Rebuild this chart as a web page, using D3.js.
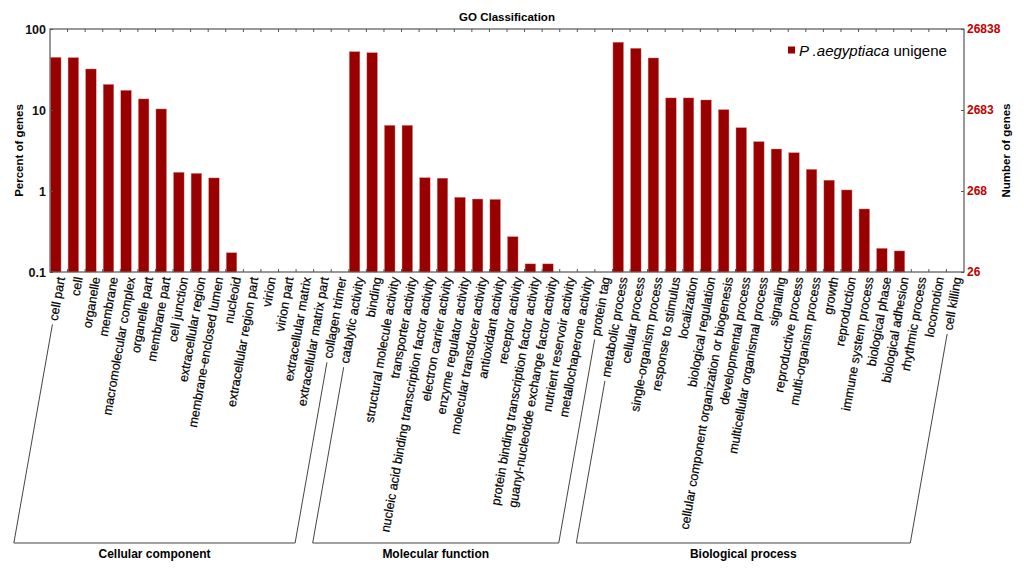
<!DOCTYPE html>
<html>
<head>
<meta charset="utf-8">
<script src="https://cdn.jsdelivr.net/npm/d3@7"></script>
<style>
  body { margin: 0; background: #fff; }
  svg { font-family: "Liberation Sans", Arial, sans-serif; }
</style>
</head>
<body>
<svg width="1024" height="572"></svg>
<script>
// GO terms and percent of genes (0 = no bar above 0.1%)
var groupNames = ["Cellular component", "Molecular function", "Biological process"];

var ccTerms = ["cell part", "cell", "organelle", "membrane", "macromolecular complex", "organelle part",
  "membrane part", "cell junction", "extracellular region", "membrane-enclosed lumen", "nucleoid",
  "extracellular region part", "virion", "virion part", "extracellular matrix", "extracellular matrix part",
  "collagen trimer"];
var ccPercent = [44.7, 44.3, 32.1, 20.7, 17.5, 13.7, 10.3, 1.70, 1.65, 1.45, 0.173, 0, 0, 0, 0, 0, 0];

var mfTerms = ["catalytic activity", "binding", "structural molecule activity", "transporter activity",
  "nucleic acid binding transcription factor activity", "electron carrier activity",
  "enzyme regulator activity", "molecular transducer activity", "antioxidant activity",
  "receptor activity", "protein binding transcription factor activity",
  "guanyl-nucleotide exchange factor activity", "nutrient reservoir activity",
  "metallochaperone activity", "protein tag"];
var mfPercent = [52.5, 51.0, 6.47, 6.47, 1.46, 1.44, 0.836, 0.796, 0.787, 0.273, 0.126, 0.126, 0, 0, 0];

var bpTerms = ["metabolic process", "cellular process", "single-organism process", "response to stimulus",
  "localization", "biological regulation", "cellular component organization or biogenesis",
  "developmental process", "multicellular organismal process", "signaling", "reproductive process",
  "multi-organism process", "growth", "reproduction", "immune system process", "biological phase",
  "biological adhesion", "rhythmic process", "locomotion", "cell killing"];
var bpPercent = [68.7, 57.8, 43.9, 14.1, 14.1, 13.3, 10.1, 6.05, 4.07, 3.30, 2.97, 1.85, 1.36, 1.03,
  0.60, 0.196, 0.182, 0, 0, 0];

var totalGenes = 26838;
var percentTicks = [0.1, 1, 10, 100];

var svg = d3.select("svg");
var plotL = 50, plotR = 964, plotT = 29, plotB = 272;
var barColor = "#990000";

// flatten into one list
var termLists = [ccTerms, mfTerms, bpTerms];
var valueLists = [ccPercent, mfPercent, bpPercent];
var data = [];
termLists.forEach(function(terms, g){
  terms.forEach(function(t, i){
    data.push({name: t, value: valueLists[g][i], group: g});
  });
});

var x = d3.scaleBand()
  .domain(data.map(function(d){ return d.name }))
  .range([plotL, plotR]);
var bw = x.bandwidth();

var y = d3.scaleLog().domain([0.1, 100]).range([plotB, plotT]);
var yRight = d3.scaleLog().domain([totalGenes / 1000, totalGenes]).range([plotB, plotT]);

// bars
svg.append("g")
  .selectAll("rect")
  .data(data.filter(function(d){ return d.value > 0.1 }))
  .enter()
  .append("rect")
    .attr("x", function(d){ return x(d.name) + 0.5 })
    .attr("y", function(d){ return y(d.value) })
    .attr("width", bw * 0.6)
    .attr("height", function(d){ return plotB - y(d.value) })
    .attr("fill", barColor)
    .attr("stroke", "#d88")
    .attr("stroke-width", 0.4);

// frame
svg.append("rect")
  .attr("x", plotL).attr("y", plotT)
  .attr("width", plotR - plotL).attr("height", plotB - plotT)
  .attr("fill", "none").attr("stroke", "#555").attr("stroke-width", 1.2);

// top and bottom ticks at each band start
var tickGroup = svg.append("g").attr("stroke", "#555").attr("stroke-width", 1);
tickGroup.selectAll(".tt")
  .data(data.slice(1))
  .enter().append("line")
    .attr("x1", function(d){ return x(d.name) }).attr("x2", function(d){ return x(d.name) })
    .attr("y1", plotT).attr("y2", plotT + 3);
tickGroup.selectAll(".bt")
  .data(data.slice(1))
  .enter().append("line")
    .attr("x1", function(d){ return x(d.name) }).attr("x2", function(d){ return x(d.name) })
    .attr("y1", plotB).attr("y2", plotB - 3);

// left axis
var yAxis = svg.append("g")
  .attr("transform", "translate(" + plotL + ",0)")
  .call(d3.axisLeft(y).tickValues(percentTicks).tickFormat(d3.format("")).tickSize(-3).tickPadding(4));
yAxis.select(".domain").remove();
yAxis.selectAll("line").attr("stroke", "#555");
yAxis.selectAll("text")
  .attr("font-size", 12.5).attr("font-weight", "bold").attr("fill", "#111")
  .attr("font-family", "Liberation Sans, Arial, sans-serif");

// right axis
var yrAxis = svg.append("g")
  .attr("transform", "translate(" + plotR + ",0)")
  .call(d3.axisRight(yRight)
    .tickValues(percentTicks.map(function(p){ return p * totalGenes / 100 }))
    .tickFormat(function(v){ return Math.floor(v + 1e-6) })
    .tickSize(-3).tickPadding(3));
yrAxis.select(".domain").remove();
yrAxis.selectAll("line").attr("stroke", "#555");
yrAxis.selectAll("text")
  .attr("font-size", 12).attr("font-weight", "bold").attr("fill", "#c00000")
  .attr("font-family", "Liberation Sans, Arial, sans-serif");

// titles
svg.append("text")
  .attr("x", (plotL + plotR) / 2).attr("y", 21)
  .attr("text-anchor", "middle").attr("font-size", 11.5).attr("font-weight", "bold")
  .text("GO Classification");

svg.append("text")
  .attr("transform", "translate(23," + (plotT + plotB) / 2 + ") rotate(-90)")
  .attr("text-anchor", "middle").attr("font-size", 11.5).attr("font-weight", "bold")
  .text("Percent of genes");

svg.append("text")
  .attr("transform", "translate(1010," + (plotT + plotB) / 2 + ") rotate(-90)")
  .attr("text-anchor", "middle").attr("font-size", 11.5).attr("font-weight", "bold")
  .text("Number of genes");

// legend
svg.append("rect")
  .attr("x", 788).attr("y", 46.5).attr("width", 7).attr("height", 7)
  .attr("fill", barColor);
var leg = svg.append("text")
  .attr("x", 799).attr("y", 55.5).attr("font-size", 15);
leg.append("tspan").attr("font-style", "italic").text("P .aegyptiaca");
leg.append("tspan").text(" unigene");

// category labels, rotated -80 degrees
var angle = -80;
var rad = angle * Math.PI / 180;
var labelY = 277;
function labelX(d){ return x(d.name) + bw * 0.3 + 5.5 }

var labels = svg.append("g")
  .selectAll("text")
  .data(data)
  .enter()
  .append("text")
    .attr("transform", function(d){ return "translate(" + labelX(d) + "," + labelY + ") rotate(" + angle + ")" })
    .attr("text-anchor", "end")
    .attr("dy", "0.35em")
    .attr("font-size", 12.6)
    .attr("fill", "#000")
    .attr("stroke", "#000")
    .attr("stroke-width", 0.2)
    .text(function(d){ return d.name });

// bracket lines for each group
var lens = {};
labels.each(function(d){ lens[d.name] = this.getComputedTextLength() });
var ux = -Math.cos(rad), uy = -Math.sin(rad);   // from label end towards label start
var baseY = 543;

groupNames.forEach(function(gName, g){
  var terms = termLists[g];
  var first = data.find(function(d){ return d.name == terms[0] });
  var last = data.find(function(d){ return d.name == terms[terms.length - 1] });
  function ends(d){
    var ax = labelX(d), ay = labelY;
    var s = lens[d.name] + 4;
    var t = (baseY - ay) / uy;
    return {sx: ax + ux * s, sy: ay + uy * s, ex: ax + ux * t, ey: baseY};
  }
  var a = ends(first), b = ends(last);
  svg.append("path")
    .attr("d", "M" + a.sx + "," + a.sy + "L" + a.ex + "," + a.ey + "L" + b.ex + "," + b.ey + "L" + b.sx + "," + b.sy)
    .attr("fill", "none").attr("stroke", "#444").attr("stroke-width", 1);
  svg.append("text")
    .attr("x", (a.ex + b.ex) / 2).attr("y", 558)
    .attr("text-anchor", "middle").attr("font-size", 12).attr("font-weight", "bold")
    .text(gName);
});
</script>
</body>
</html>
